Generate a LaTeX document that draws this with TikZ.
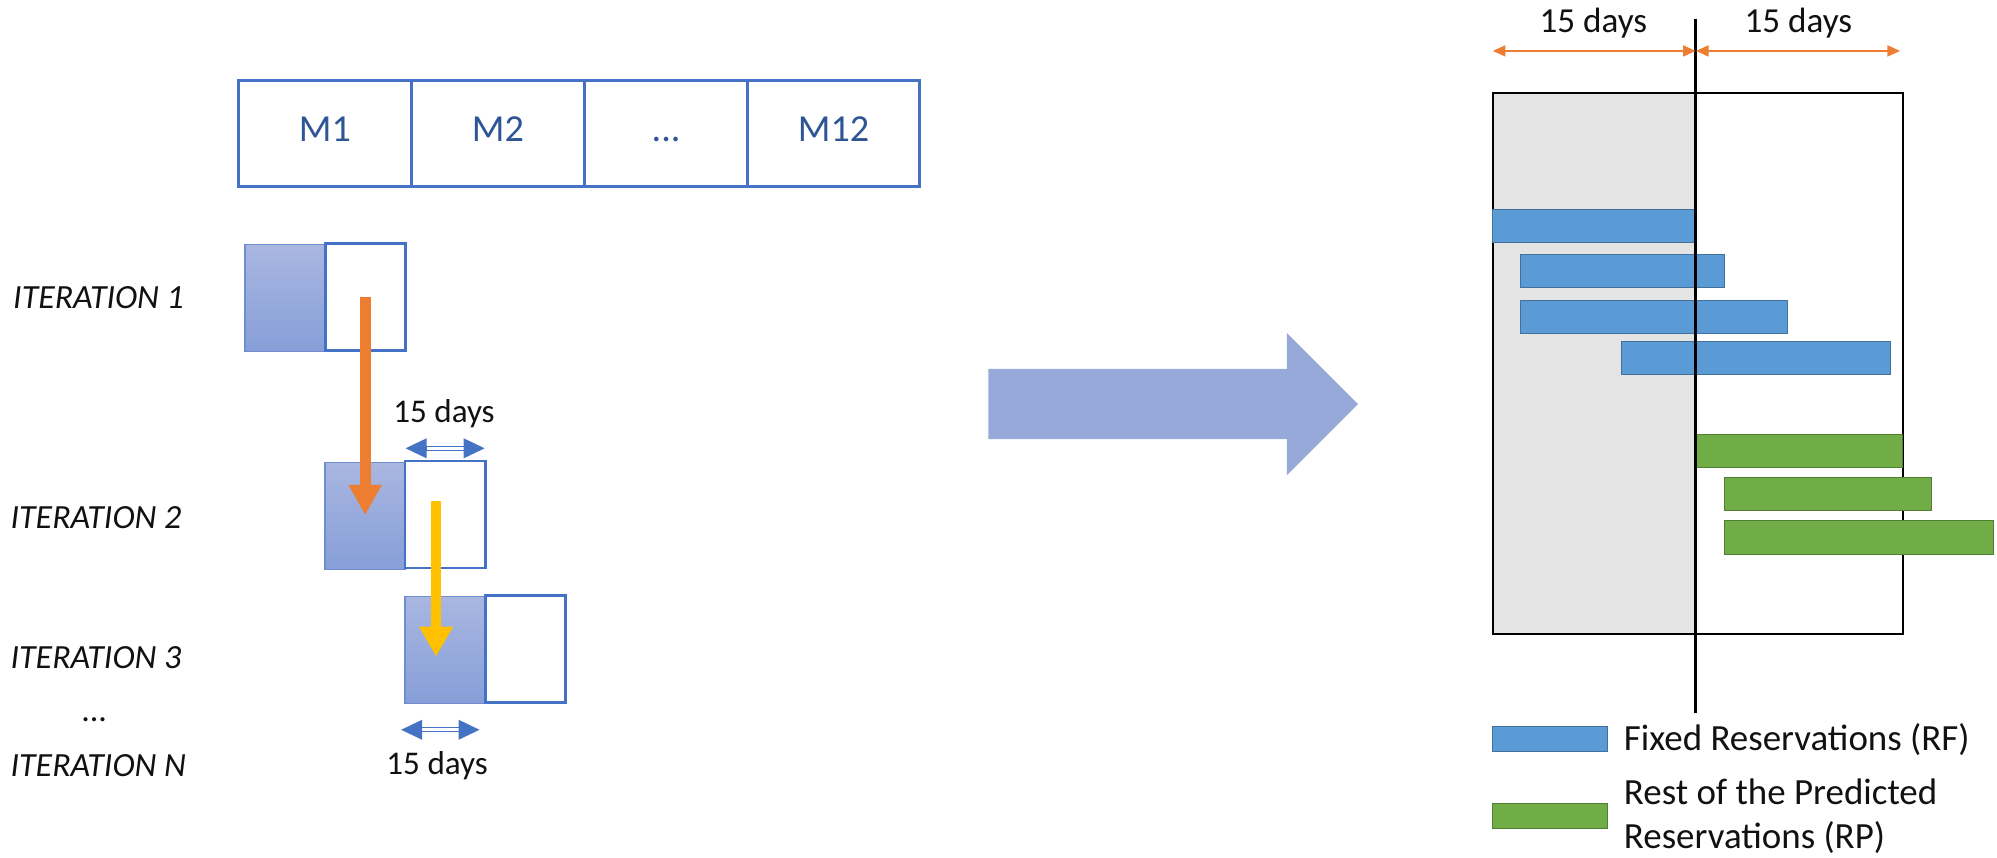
\documentclass[tikz,border=0pt]{standalone}
\usepackage{fontspec}
\setmainfont{Carlito}
\usetikzlibrary{arrows.meta}

\definecolor{monthblue}{HTML}{4472C4}
\definecolor{monthtext}{HTML}{2F5597}
\definecolor{shadetop}{HTML}{A9B7E1}
\definecolor{shadebot}{HTML}{879ED8}
\definecolor{shadeedge}{HTML}{6E8ED0}
\definecolor{arroworange}{HTML}{ED7D31}
\definecolor{arrowyellow}{HTML}{FFC000}
\definecolor{bigarrow}{HTML}{96A9D8}
\definecolor{pastgray}{HTML}{E4E4E4}
\definecolor{rfblue}{HTML}{5B9BD5}
\definecolor{rfedge}{HTML}{41719C}
\definecolor{rpgreen}{HTML}{70AD47}
\definecolor{rpedge}{HTML}{507E32}
\definecolor{labelblack}{HTML}{111111}

% two-headed span marker: filled heads, outlined thin shaft
\newcommand\dimspan[3]{%
  \draw[monthblue, line width=0.45pt, fill=white] (#1+16,#3-1.6) rectangle (#2-16,#3+1.6);
  \fill[monthblue] (#1,#3) -- (#1+16.5,#3-7.9) -- (#1+16.5,#3+7.9) -- cycle;
  \fill[monthblue] (#2,#3) -- (#2-16.5,#3-7.9) -- (#2-16.5,#3+7.9) -- cycle;}

\begin{document}
\begin{tikzpicture}[x=0.5pt,y=-0.5pt,
  cell/.style={draw=monthblue, line width=1.05pt, minimum height=41.6pt,
    inner sep=0pt, text=monthtext, font=\fontsize{15}{18}\selectfont,
    text height=0.64em, text depth=0pt},
  pastbox/.style={draw=shadeedge, line width=0.6pt, top color=shadetop,
    bottom color=shadebot, minimum width=31.5pt, minimum height=42pt, inner sep=0pt},
  nextbox/.style={draw=monthblue, line width=1.1pt, fill=white,
    minimum width=31.5pt, minimum height=42pt, inner sep=0pt},
  iterlabel/.style={anchor=base west, inner sep=0pt, text=labelblack,
    font=\fontsize{13.3}{15}\selectfont\itshape},
  daysmall/.style={anchor=base, inner sep=0pt, text=labelblack,
    font=\fontsize{13}{15}\selectfont},
  daybig/.style={anchor=base, inner sep=0pt, text=labelblack,
    font=\fontsize{13.8}{16}\selectfont},
  legendtext/.style={anchor=base west, inner sep=0pt, text=labelblack,
    font=\fontsize{14.5}{17.3}\selectfont},
  rfbar/.style={fill=rfblue, draw=rfedge, line width=0.4pt},
  rpbar/.style={fill=rpgreen, draw=rpedge, line width=0.4pt},
  spanorange/.style={arroworange, line width=1pt,
    {Triangle[length=5pt,width=4.2pt]}-{Triangle[length=5pt,width=4.2pt]}}
]
\useasboundingbox (0,0) rectangle (1568,673);

% ---- twelve-month horizon ----
\node[cell, minimum width=67.9pt] (m1)  at (255.1,105) {M1};
\node[cell, minimum width=68pt]   (m2)  at (391,105)   {M2};
\node[cell, minimum width=64pt]   (mdots) at (523,105) {...};
\node[cell, minimum width=67.5pt] (m12) at (654.5,105) {M12};

% ---- sliding windows ----
\node[pastbox] (f1) at (224,234) {};
\node[nextbox] (w1) at (287,233) {};
\node[pastbox] (f2) at (286.5,405) {};
\node[nextbox] (w2) at (349.5,404) {};
\node[pastbox] (f3) at (349.5,510.5) {};
\node[nextbox] (w3) at (412.5,509.5) {};

\coordinate (ostart) at (286.7,233);
\coordinate (oend)   at (286.7,404.4);
\coordinate (ystart) at (342.4,393);
\coordinate (yend)   at (342.4,515.6);
\draw[arroworange, line width=4.25pt, -{Triangle[length=11.8pt,width=12.2pt]}] (ostart) -- (oend);
\draw[arrowyellow, line width=3.8pt, -{Triangle[length=11.8pt,width=12.5pt]}] (ystart) -- (yend);

\dimspan{318.5}{380.5}{352}
\node[daysmall] (d1) at (348.6,332) {15 days};
\dimspan{315}{376.5}{573}
\node[daysmall] (d2) at (343.2,608.5) {15 days};

\node[iterlabel] (it1) at (10,242)   {ITERATION 1};
\node[iterlabel] (it2) at (8,414.8)  {ITERATION 2};
\node[iterlabel] (it3) at (8,524.8)  {ITERATION 3};
\node[anchor=base, inner sep=0pt, text=labelblack, font=\fontsize{13.3}{15}\selectfont] (itdots) at (74,566.6) {...};
\node[iterlabel] (itn) at (8,609.8)  {ITERATION N};

% ---- transition arrow ----
\fill[bigarrow] (776,289.7) -- (1010.5,289.7) -- (1010.5,261.5) -- (1066.3,317.3)
  -- (1010.5,373) -- (1010.5,344.7) -- (776,344.7) -- cycle;

% ---- reservation window ----
\fill[pastgray] (1172,72.8) rectangle (1331.5,498);
\draw[black, line width=0.8pt] (1172,72.8) rectangle (1494,498);

\draw[rfbar] (1172,164.4)   rectangle (1331.5,190.5);
\draw[rfbar] (1194,199.7)   rectangle (1354.4,225.9);
\draw[rfbar] (1194,235.6)   rectangle (1403.8,261.7);
\draw[rfbar] (1273.3,268.3) rectangle (1484.5,294.4);
\draw[rpbar] (1331.5,340.8) rectangle (1494,366.9);
\draw[rpbar] (1354.1,374.8) rectangle (1516.6,401);
\draw[rpbar] (1354.1,409)   rectangle (1565.3,435.2);

\coordinate (cuttop) at (1331.5,15);
\coordinate (cutbot) at (1331.5,560);
\draw[black, line width=1.25pt] (cuttop) -- (cutbot);

\coordinate (spanl) at (1172,40);
\coordinate (spanm) at (1331.5,40);
\coordinate (spanr) at (1492,40);
\draw[spanorange] (spanl) -- (spanm);
\draw[spanorange] (spanm) -- (spanr);
\node[daybig] (dl) at (1251,25.4) {15 days};
\node[daybig] (dr) at (1412,25.4) {15 days};

% ---- legend ----
\draw[rfbar] (1172,570.6) rectangle (1261.8,590.2);
\node[legendtext] (lrf) at (1274.7,589.4) {Fixed Reservations (RF)};
\draw[rpbar] (1172,630.8) rectangle (1261.8,650.4);
\node[legendtext] (lrp) at (1274.7,631.3)
  {\vtop{\hbox{Rest of the Predicted}\hbox{Reservations (RP)}}};
\end{tikzpicture}
\end{document}
